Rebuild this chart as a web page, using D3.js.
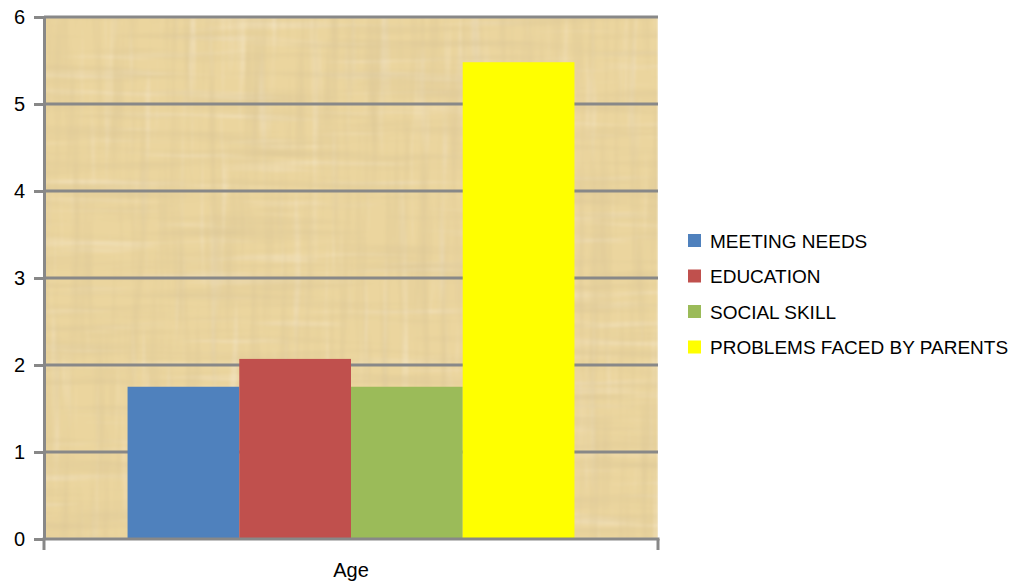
<!DOCTYPE html>
<html>
<head>
<meta charset="utf-8">
<script src="https://cdn.jsdelivr.net/npm/d3@7"></script>
<style>
  html, body { margin: 0; padding: 0; background: #fff; }
  svg { display: block; font-family: "Liberation Sans", Arial, sans-serif; }
</style>
</head>
<body>
<svg id="chart" width="1015" height="588"></svg>
<script>
// Chart data
const categories = ["Age"];
const seriesNames = ["MEETING NEEDS", "EDUCATION", "SOCIAL SKILL", "PROBLEMS FACED BY PARENTS"];
const seriesValues = [1.75, 2.07, 1.75, 5.48];
const seriesColors = ["#4F81BD", "#C0504D", "#9BBB59", "#FFFF00"];
const yTicks = [0, 1, 2, 3, 4, 5, 6];

const svg = d3.select("#chart");
const plot = { left: 44, right: 658, top: 17, bottom: 539 };
const axisGray = "#888888";

const y = d3.scaleLinear().domain([0, 6]).range([plot.bottom, plot.top]);
const x0 = d3.scaleBand().domain(categories).range([plot.left, plot.right])
  .paddingInner(0).paddingOuter(0.187);
const x1 = d3.scaleBand().domain(seriesNames).range([0, x0.bandwidth()]).padding(0);

// Papyrus-like paper texture for the plot area
const defs = svg.append("defs");
const f = defs.append("filter").attr("id", "papyrus")
  .attr("x", 0).attr("y", 0).attr("width", 1).attr("height", 1)
  .attr("filterUnits", "objectBoundingBox");
f.append("feFlood").attr("flood-color", "#EBD59E").attr("result", "base");
f.append("feTurbulence").attr("type", "fractalNoise").attr("baseFrequency", "0.006 0.1")
  .attr("numOctaves", 3).attr("seed", 4).attr("result", "hn");
f.append("feColorMatrix").attr("in", "hn").attr("type", "matrix")
  .attr("values", "0 0 0 0 0.70  0 0 0 0 0.56  0 0 0 0 0.30  1.2 0 0 0 -0.52").attr("result", "hd");
f.append("feColorMatrix").attr("in", "hn").attr("type", "matrix")
  .attr("values", "0 0 0 0 0.97  0 0 0 0 0.90  0 0 0 0 0.76  0 -1.0 0 0 0.42").attr("result", "hl");
f.append("feTurbulence").attr("type", "fractalNoise").attr("baseFrequency", "0.1 0.006")
  .attr("numOctaves", 3).attr("seed", 11).attr("result", "vn");
f.append("feColorMatrix").attr("in", "vn").attr("type", "matrix")
  .attr("values", "0 0 0 0 0.70  0 0 0 0 0.56  0 0 0 0 0.30  1.2 0 0 0 -0.52").attr("result", "vd");
f.append("feColorMatrix").attr("in", "vn").attr("type", "matrix")
  .attr("values", "0 0 0 0 0.97  0 0 0 0 0.90  0 0 0 0 0.76  0 -1.0 0 0 0.42").attr("result", "vl");
const merge = f.append("feMerge").attr("result", "tex");
["base", "hl", "vl", "hd", "vd"].forEach(n => merge.append("feMergeNode").attr("in", n));
f.append("feGaussianBlur").attr("in", "tex").attr("stdDeviation", "1");

svg.append("rect")
  .attr("x", plot.left).attr("y", plot.top)
  .attr("width", plot.right - plot.left).attr("height", plot.bottom - plot.top)
  .attr("fill", "#EBD59E")
  .attr("filter", "url(#papyrus)");

// Horizontal gridlines
svg.append("g").selectAll("line").data(yTicks.filter(d => d > 0)).join("line")
  .attr("x1", plot.left).attr("x2", plot.right)
  .attr("y1", d => y(d)).attr("y2", d => y(d))
  .attr("stroke", axisGray).attr("stroke-width", 3);

// Bars
const groups = svg.append("g").selectAll("g").data(categories).join("g")
  .attr("transform", d => `translate(${x0(d)},0)`);
groups.selectAll("rect")
  .data(() => seriesNames.map((s, i) => ({ name: s, value: seriesValues[i], color: seriesColors[i] })))
  .join("rect")
  .attr("x", d => x1(d.name))
  .attr("width", x1.bandwidth())
  .attr("y", d => y(d.value))
  .attr("height", d => y(0) - y(d.value))
  .attr("fill", d => d.color);

// Y axis
const yAxis = d3.axisLeft(y).tickValues(yTicks).tickFormat(d3.format("d"))
  .tickSize(10).tickSizeOuter(0).tickPadding(9);
const gy = svg.append("g").attr("transform", `translate(${plot.left},0)`).call(yAxis);
gy.select(".domain").attr("stroke", axisGray).attr("stroke-width", 3);
gy.selectAll(".tick line").attr("stroke", axisGray).attr("stroke-width", 3);
gy.selectAll(".tick text").attr("font-size", 20).attr("fill", "#000")
  .attr("font-family", "'Liberation Sans', Arial, sans-serif");

// X axis with tick marks at category boundaries
const gx = svg.append("g").attr("transform", `translate(0,${plot.bottom})`);
gx.append("line").attr("x1", plot.left - 1.5).attr("x2", plot.right + 1.5)
  .attr("stroke", axisGray).attr("stroke-width", 3);
gx.selectAll("line.b").data([plot.left, plot.right]).join("line").attr("class", "b")
  .attr("x1", d => d).attr("x2", d => d).attr("y1", 0).attr("y2", 11)
  .attr("stroke", axisGray).attr("stroke-width", 3);
gx.selectAll("text").data(categories).join("text")
  .attr("x", d => x0(d) + x0.bandwidth() / 2).attr("y", 38)
  .attr("text-anchor", "middle").attr("font-size", 20).attr("fill", "#000")
  .text(d => d);

// Legend
const legend = svg.append("g").attr("transform", "translate(688,241)");
const items = legend.selectAll("g").data(seriesNames).join("g")
  .attr("transform", (d, i) => `translate(0,${i * 35.5})`);
items.append("rect").attr("x", 0).attr("y", -7).attr("width", 13).attr("height", 13)
  .attr("fill", (d, i) => seriesColors[i]);
items.append("text").attr("x", 22).attr("y", 0).attr("dy", "0.36em")
  .attr("font-size", 19).attr("fill", "#000").text(d => d);
</script>
</body>
</html>
